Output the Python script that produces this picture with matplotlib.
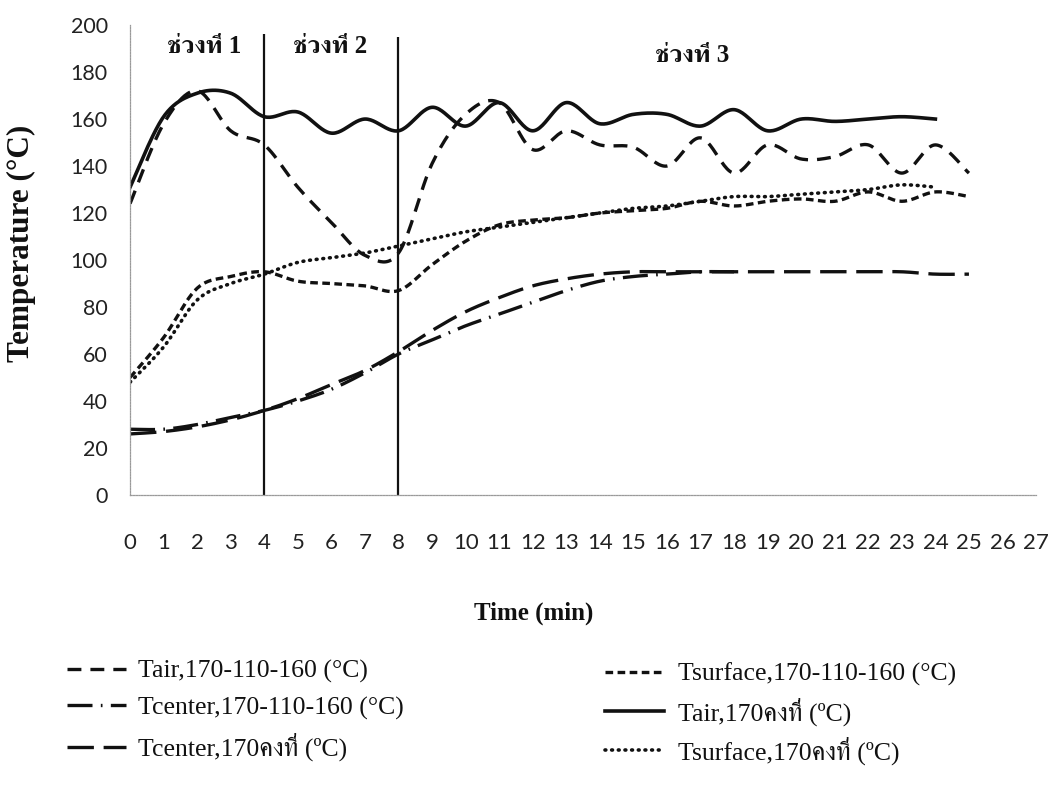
import numpy as np
import matplotlib
matplotlib.use("Agg")
import matplotlib.pyplot as plt
from matplotlib import font_manager
from matplotlib.ft2font import FT2Font

# ---- data (temperature in deg C, sampled every minute) ----
time_tair_step = list(range(0, 26))
tair_step = [124, 158, 172, 155, 149, 131, 116, 102, 103, 141, 162, 167, 147,
             155, 149, 148, 140, 152, 137, 149, 143, 144, 149, 137, 149, 137]

time_tsurf_step = list(range(0, 26))
tsurf_step = [50, 67, 88, 93, 95, 91, 90, 89, 87, 98, 108, 115, 117,
              118, 120, 121, 122, 125, 123, 125, 126, 125, 129, 125, 129, 127]

time_tcenter_step = list(range(0, 19))
tcenter_step = [28, 28, 30, 33, 36, 40, 45, 52, 60, 66, 72, 77, 82,
                87, 91, 93, 94, 95, 95]

time_tair_const = list(range(0, 25))
tair_const = [131, 161, 171, 171, 161, 163, 154, 160, 155, 165, 157, 167, 155,
              167, 158, 162, 162, 157, 164, 155, 160, 159, 160, 161, 160]

time_tcenter_const = list(range(0, 26))
tcenter_const = [26, 27, 29, 32, 36, 41, 47, 53, 61, 70, 78, 84, 89,
                 92, 94, 95, 95, 95, 95, 95, 95, 95, 95, 95, 94, 94]

time_tsurf_const = list(range(0, 25))
tsurf_const = [48, 63, 83, 90, 94, 99, 101, 103, 106, 109, 112, 114, 116,
               118, 120, 122, 123, 125, 127, 127, 128, 129, 130, 132, 131]

period_bounds = [4, 8]
period_labels = ["ช่วงที่ 1", "ช่วงที่ 2", "ช่วงที่ 3"]
period_label_pos = [(2.2, 191), (5.95, 191), (16.75, 187)]

x_ticks = list(range(0, 28))
y_ticks = list(range(0, 201, 20))

labels = {
    "tair_step": "Tair,170-110-160 (°C)",
    "tcenter_step": "Tcenter,170-110-160 (°C)",
    "tcenter_const": "Tcenter,170คงที่ (ºC)",
    "tsurf_step": "Tsurface,170-110-160 (°C)",
    "tair_const": "Tair,170คงที่ (ºC)",
    "tsurf_const": "Tsurface,170คงที่ (ºC)",
}


def thai_family():
    names = set()
    for entry in font_manager.fontManager.ttflist:
        try:
            cmap = FT2Font(entry.fname).get_charmap()
        except Exception:
            continue
        if 0x0E0A in cmap and 0x0E35 in cmap and 0x0E48 in cmap:
            names.add(entry.name)
    for p in ["FreeSerif", "Noto Serif Thai", "Kinnari", "Norasi", "Loma"]:
        if p in names:
            return p
    return sorted(names)[0] if names else None


thai = thai_family()
SERIF = ["Liberation Serif"] + ([thai] if thai else [])
TICKFONT = "Lato"

plt.rcParams["lines.scale_dashes"] = False


def smooth_curve(x, y, steps=24):
    """Cardinal (Catmull-Rom) spline through the points, like a smoothed line."""
    x = np.asarray(x, float)
    y = np.asarray(y, float)
    px = np.concatenate([[x[0]], x, [x[-1]]])
    py = np.concatenate([[y[0]], y, [y[-1]]])
    s = np.linspace(0, 1, steps, endpoint=False)
    ox, oy = [], []
    for i in range(len(x) - 1):
        p0 = np.array([px[i], py[i]])
        p1 = np.array([px[i + 1], py[i + 1]])
        p2 = np.array([px[i + 2], py[i + 2]])
        p3 = np.array([px[i + 3], py[i + 3]])
        c1 = p1 + (p2 - p0) / 6.0
        c2 = p2 - (p3 - p1) / 6.0
        b = ((1 - s) ** 3)[:, None] * p1 + (3 * (1 - s) ** 2 * s)[:, None] * c1 \
            + (3 * (1 - s) * s ** 2)[:, None] * c2 + (s ** 3)[:, None] * p2
        ox.extend(b[:, 0])
        oy.extend(b[:, 1])
    ox.append(x[-1])
    oy.append(y[-1])
    return np.array(ox), np.array(oy)


fig = plt.figure(figsize=(10.53, 7.88), dpi=100)
ax = fig.add_axes([0.1235, 0.3718, 0.8604, 0.5964])

ink = "#111111"
lw = 2.4

styles = {
    "tair_step": dict(linestyle=(0, (10, 6.5)), linewidth=lw),
    "tsurf_step": dict(linestyle=(0, (5.5, 3.2)), linewidth=lw),
    "tcenter_step": dict(linestyle=(0, (18, 6, 1.2, 6)), linewidth=lw),
    "tair_const": dict(linestyle="-", linewidth=2.6),
    "tcenter_const": dict(linestyle=(0, (19, 7)), linewidth=lw),
    "tsurf_const": dict(linestyle=(0, (0.6, 4.2)), linewidth=2.6,
                        dash_capstyle="round"),
}

series = {
    "tair_step": (time_tair_step, tair_step),
    "tsurf_step": (time_tsurf_step, tsurf_step),
    "tcenter_step": (time_tcenter_step, tcenter_step),
    "tair_const": (time_tair_const, tair_const),
    "tcenter_const": (time_tcenter_const, tcenter_const),
    "tsurf_const": (time_tsurf_const, tsurf_const),
}

handles = {}
for key, (tx, ty) in series.items():
    sx, sy = smooth_curve(tx, ty)
    (ln,) = ax.plot(sx, sy, color=ink, label=labels[key], **styles[key])
    handles[key] = ln

# period separators and labels
ax.vlines(period_bounds, 0, [196, 195], colors=ink, linewidth=1.6)
for txt, (px_, py_) in zip(period_labels, period_label_pos):
    ax.text(px_, py_, txt, ha="center", va="center", fontsize=18,
            fontweight="bold", family=SERIF, color=ink)

ax.set_xlim(0, 27)
ax.set_ylim(0, 200)
ax.set_xticks(x_ticks)
ax.set_yticks(y_ticks)
ax.tick_params(axis="both", length=0, colors="#222222")
ax.tick_params(axis="x", pad=27, labelsize=16)
ax.tick_params(axis="y", pad=16, labelsize=15.5)
for lab in ax.get_xticklabels() + ax.get_yticklabels():
    lab.set_family(TICKFONT)

for side in ("top", "right"):
    ax.spines[side].set_visible(False)
for side in ("left", "bottom"):
    ax.spines[side].set_color("#9a9a9a")
    ax.spines[side].set_linewidth(0.9)
    ax.spines[side].set_linestyle((0, (1, 1)))

fig.text(21 / 1053, 1 - 243 / 788, "Temperature (°C)", rotation=90,
         ha="center", va="center", fontsize=22.5, fontweight="bold",
         family=SERIF, color=ink)
fig.text(534 / 1053, 1 - 613 / 788, "Time (min)", ha="center", va="center",
         fontsize=18, fontweight="bold", family=SERIF, color=ink)

legend_font = dict(family=SERIF, size=18.5)
left_keys = ["tair_step", "tcenter_step", "tcenter_const"]
right_keys = ["tsurf_step", "tair_const", "tsurf_const"]
for keys, x0, y0, tpad, lsp in ((left_keys, 67 / 1053, 660 / 788, 0.45, 0.5),
                                (right_keys, 605 / 1053, 663 / 788, 0.55, 0.42)):
    leg = fig.legend([handles[k] for k in keys], [labels[k] for k in keys],
                     loc="upper left", bbox_to_anchor=(x0, 1 - y0),
                     frameon=False, prop=legend_font, handlelength=2.3,
                     handletextpad=tpad, labelspacing=lsp, borderpad=0,
                     borderaxespad=0)
    for t in leg.get_texts():
        t.set_color(ink)

fig.savefig("out.png", dpi=100, facecolor="white")
